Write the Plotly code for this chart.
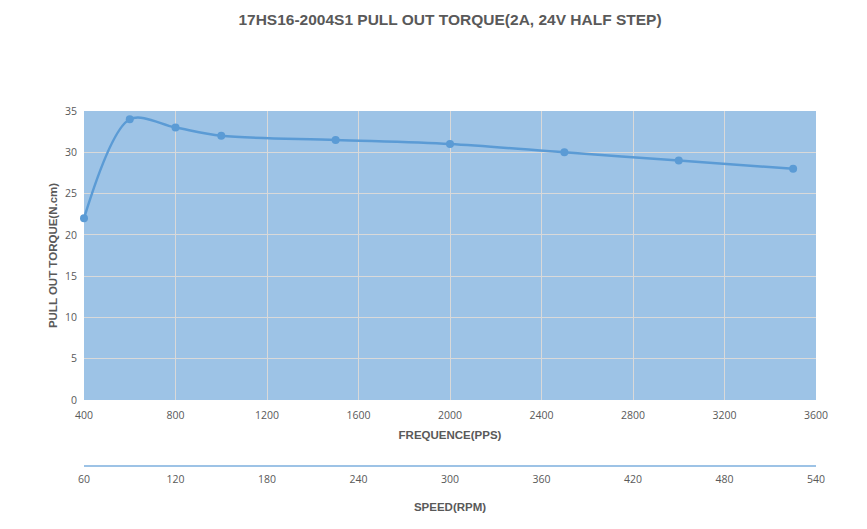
import plotly.graph_objects as go

# Data
frequency_pps = [400, 600, 800, 1000, 1500, 2000, 2500, 3000, 3500]
torque_ncm = [22, 34, 33, 32, 31.5, 31, 30, 29, 28]
speed_rpm_ticks = [60, 120, 180, 240, 300, 360, 420, 480, 540]
freq_ticks = [400, 800, 1200, 1600, 2000, 2400, 2800, 3200, 3600]
torque_ticks = [0, 5, 10, 15, 20, 25, 30, 35]

title_text = "17HS16-2004S1 PULL OUT TORQUE(2A, 24V HALF STEP)"

W, H = 867, 529
TOP, BOTTOM_PLOT, SEC_AXIS_Y = 111, 400, 466
t = TOP
b = H - SEC_AXIS_Y
ydom0 = (SEC_AXIS_Y - BOTTOM_PLOT) / (SEC_AXIS_Y - TOP)

grey = "#595959"
tick_font = dict(family="Open Sans, Arial, sans-serif", size=10.5, color=grey)
title_font = dict(family="Liberation Sans, Arial, sans-serif", size=11.5, color=grey)

fig = go.Figure()
fig.add_trace(go.Scatter(
    x=frequency_pps, y=torque_ncm, mode="lines+markers",
    line=dict(color="#5B9BD5", width=2.5, shape="spline", smoothing=0.9),
    marker=dict(color="#5B9BD5", size=8),
    xaxis="x", yaxis="y", showlegend=False, hoverinfo="x+y", cliponaxis=False,
))
# invisible trace to carry the speed axis
fig.add_trace(go.Scatter(
    x=speed_rpm_ticks, y=[None] * len(speed_rpm_ticks), mode="markers",
    xaxis="x2", yaxis="y", showlegend=False, hoverinfo="skip",
    marker=dict(opacity=0),
))

fig.update_layout(
    width=W, height=H,
    margin=dict(l=84, r=51, t=t, b=b),
    paper_bgcolor="white",
    plot_bgcolor="rgba(0,0,0,0)",
    title=dict(text=f"<b>{title_text}</b>", x=0.5, xref="paper", xanchor="center",
               y=1 - 20 / H, yanchor="middle",
               font=dict(family="Liberation Sans, Arial, sans-serif", size=15.5, color=grey)),
    xaxis=dict(
        range=[400, 3600], tickvals=freq_ticks, ticktext=[str(v) for v in freq_ticks],
        showgrid=True, gridcolor="#D9D9D9", gridwidth=1, zeroline=False,
        showline=False, ticks="", tickfont=tick_font, anchor="y", ticklabelstandoff=7,
        title=dict(text="<b>FREQUENCE(PPS)</b>", font=title_font, standoff=10),
    ),
    xaxis2=dict(
        range=[60, 540], tickvals=speed_rpm_ticks, ticktext=[str(v) for v in speed_rpm_ticks],
        overlaying="x", anchor="free", position=0, side="bottom",
        showgrid=False, zeroline=False, showline=True, linecolor="#9DC3E6", linewidth=1.5,
        ticks="", tickfont=tick_font, ticklabelstandoff=4,
        title=dict(text="<b>SPEED(RPM)</b>", font=title_font, standoff=17),
    ),
    yaxis=dict(
        domain=[ydom0, 1], range=[0, 35], tickvals=torque_ticks,
        showgrid=True, gridcolor="#D9D9D9", gridwidth=1, zeroline=False,
        showline=False, ticks="", tickfont=tick_font, ticklabelstandoff=6,
        title=dict(text="<b>PULL OUT TORQUE(N.cm)</b>", font=title_font, standoff=4),
    ),
    shapes=[dict(type="rect", xref="x", yref="y", x0=400, x1=3600, y0=0, y1=35,
                 fillcolor="#9DC3E6", line=dict(width=0), layer="below")],
)

fig.write_html("out.html")
